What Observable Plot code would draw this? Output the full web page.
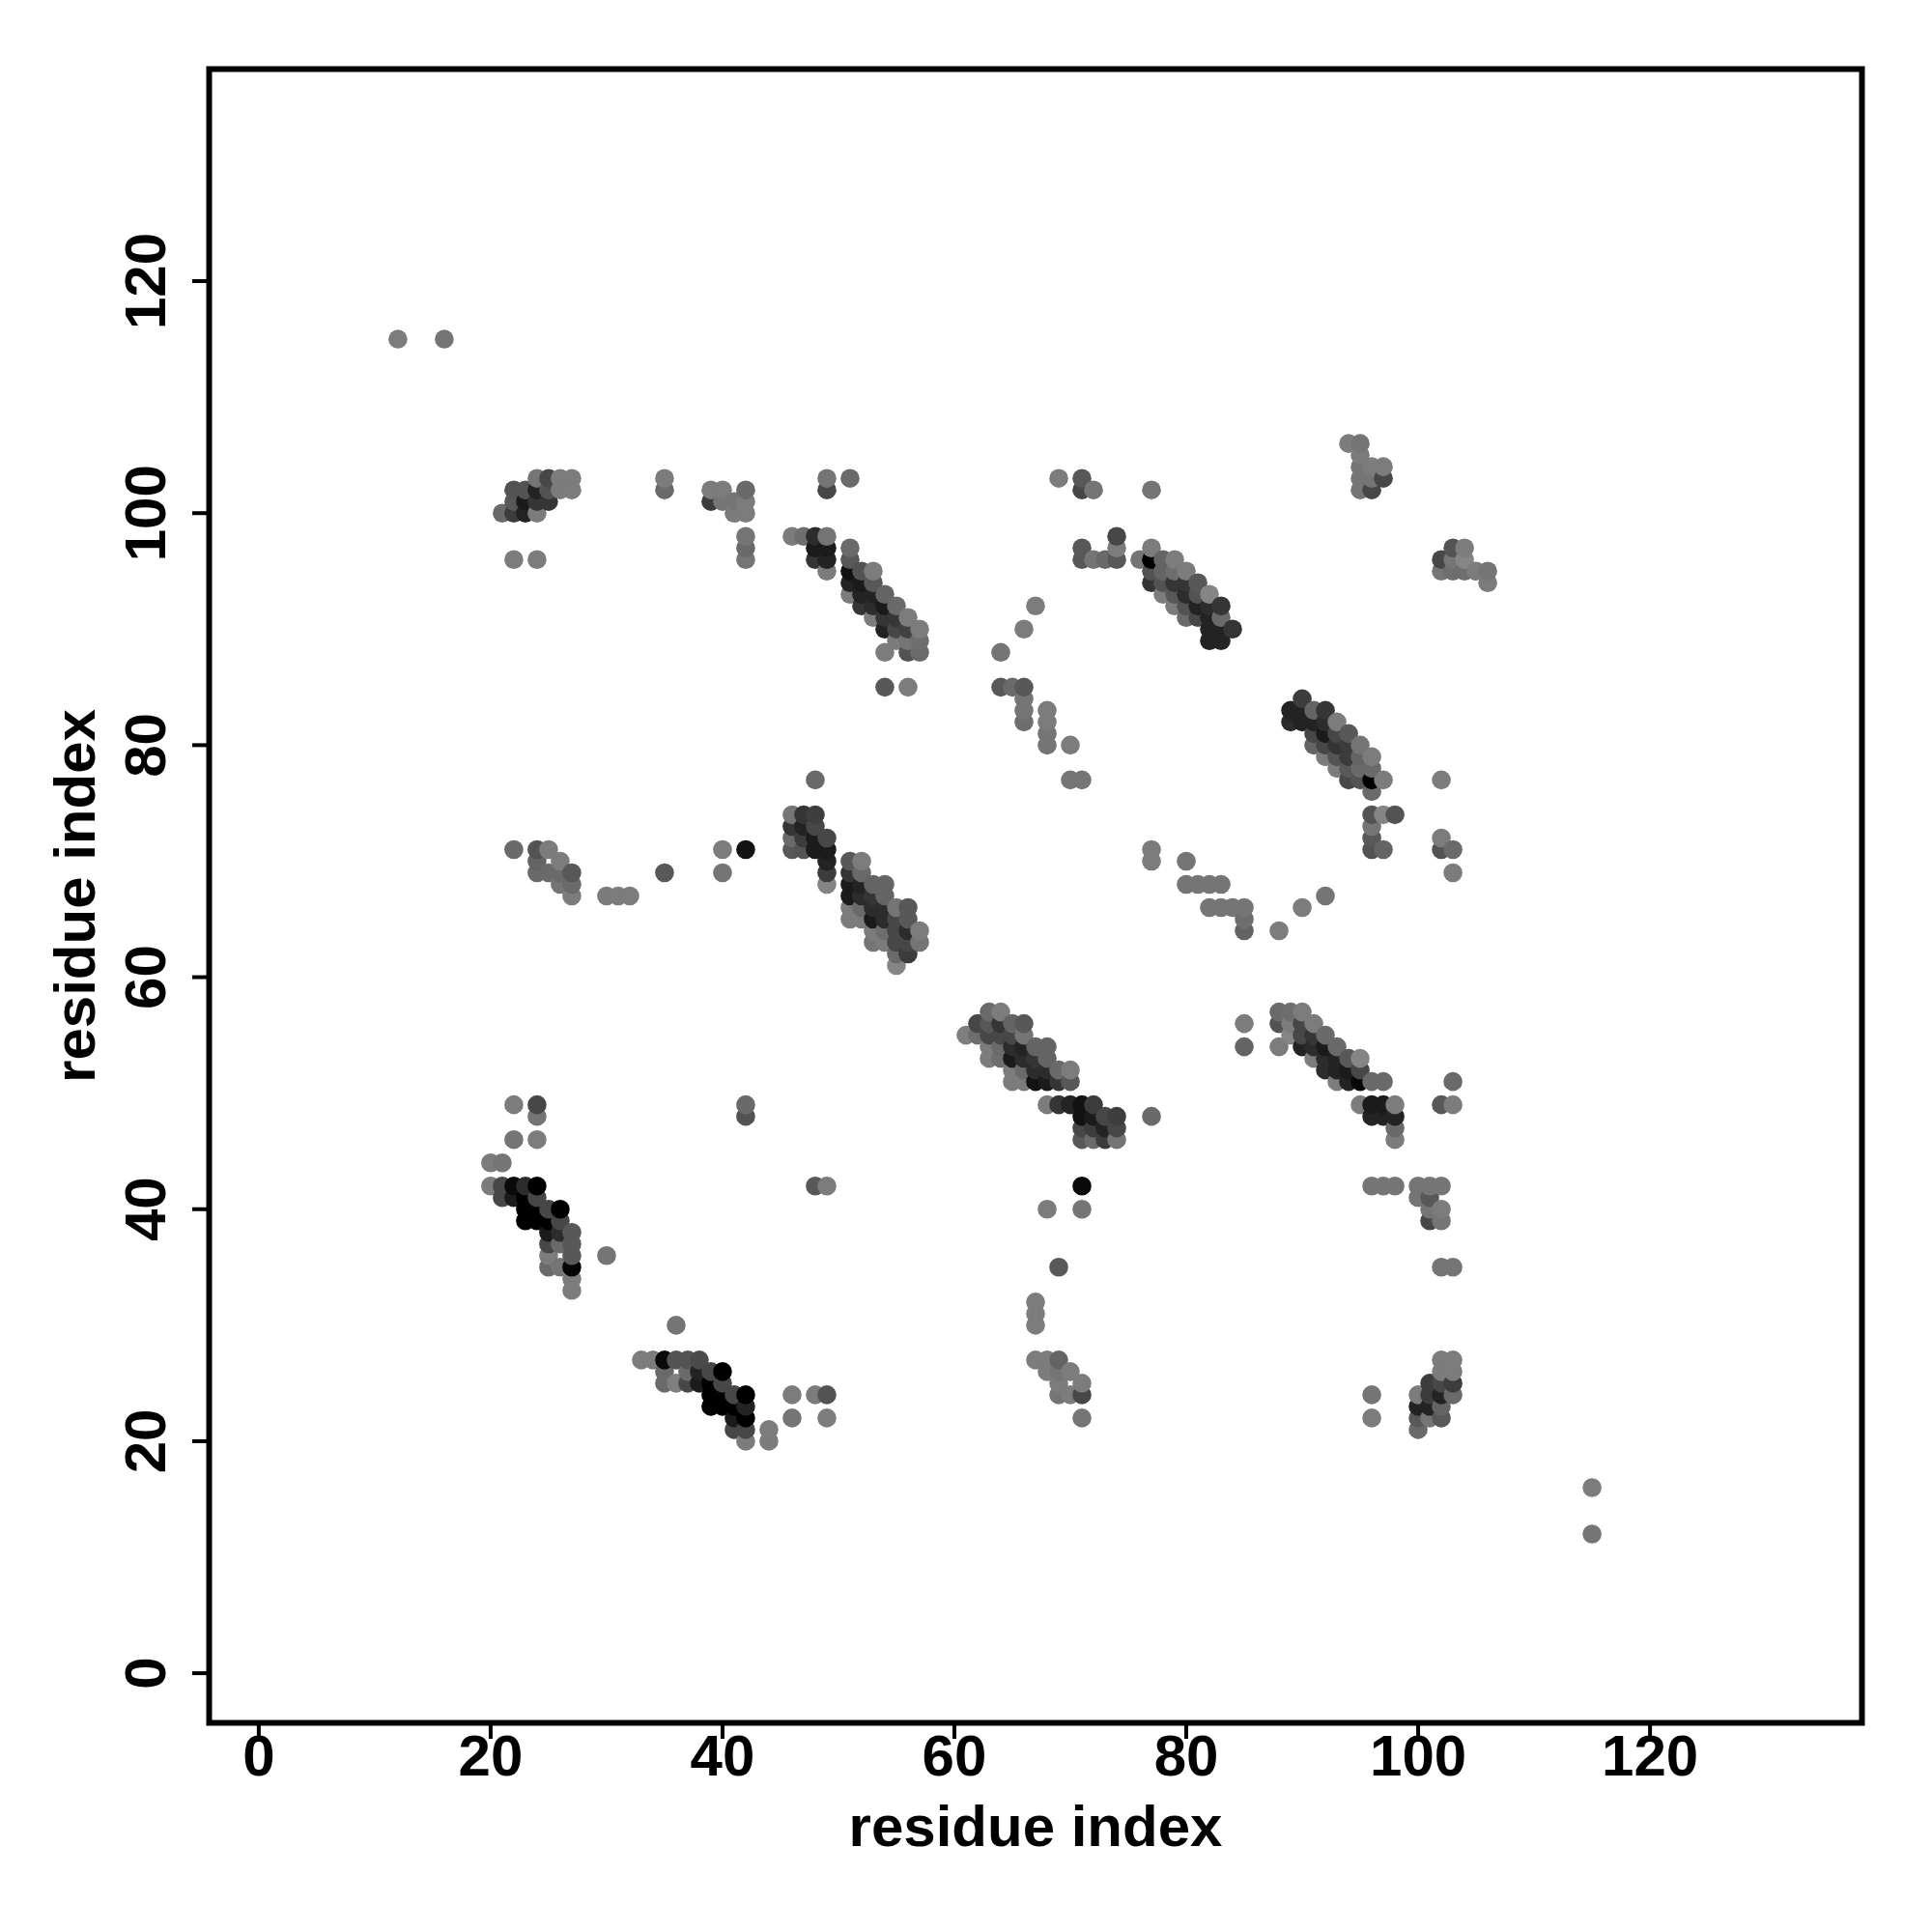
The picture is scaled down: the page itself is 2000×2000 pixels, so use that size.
<!DOCTYPE html>
<html>
<head>
<meta charset="utf-8">
<script src="https://cdn.jsdelivr.net/npm/d3@7"></script>
<script src="https://cdn.jsdelivr.net/npm/@observablehq/plot@0.6"></script>
<style>
html,body{margin:0;padding:0;background:#fff}
</style>
</head>
<body>
<div id="chart"></div>
<script>
// each contact: [residue x, residue y, grey level]
const helixA = [
[20,44,119],[21,44,112],[22,46,112],[24,46,119],[22,49,119],[24,49,68],[24,48,112],
[20,42,119],[21,42,68],[22,42,10],[23,42,42],[24,42,0],
[21,41,68],[22,41,26],[23,41,0],[24,41,68],
[23,40,0],[24,40,0],[25,40,68],[26,40,0],
[23,39,0],[24,39,0],[25,39,0],[26,39,68],
[25,38,26],[26,38,42],[27,38,85],
[25,37,68],[26,37,102],[27,37,85],
[25,36,119],[27,36,85],[30,36,112],
[25,35,102],[26,35,112],[27,35,5],
[27,34,119],[27,33,119]
];
const helixB = [
[36,30,112],
[33,27,119],[34,27,119],[35,27,10],[36,27,80],[37,27,80],[38,27,72],
[35,26,102],[37,26,102],[38,26,34],[39,26,68],[40,26,0],
[35,25,102],[36,25,122],[37,25,68],[38,25,26],[39,25,0],[40,25,68],
[39,24,0],[40,24,0],[41,24,68],[42,24,0],[46,24,119],[48,24,119],[49,24,80],
[39,23,0],[40,23,0],[41,23,0],[42,23,34],
[41,22,26],[42,22,0],[46,22,112],[49,22,119],
[41,21,68],[42,21,68],[44,21,119],
[42,20,119],[44,20,119]
];
const helixC = [
[63,57,102],[64,57,119],
[62,56,68],[63,56,85],[64,56,51],[65,56,96],[66,56,85],
[61,55,122],[62,55,106],[63,55,68],[64,55,68],[65,55,68],[66,55,112],
[63,54,119],[64,54,102],[65,54,42],[66,54,34],[67,54,96],[68,54,96],
[63,53,119],[64,53,106],[65,53,26],[66,53,42],[67,53,51],[68,53,96],
[65,52,119],[66,52,102],[67,52,42],[68,52,42],[69,52,102],[70,52,119],
[65,51,119],[66,51,119],[67,51,17],[68,51,26],[69,51,51],[70,51,85],
[68,49,119],[69,49,51],[70,49,34],[71,49,17],[72,49,58],
[71,48,17],[72,48,26],[73,48,68],[74,48,60],[77,48,102],
[71,47,68],[72,47,58],[73,47,34],[74,47,68],
[71,46,85],[72,46,102],[73,46,58],[74,46,112]
];
const helixD = [
[85,56,119],[85,54,96],
[88,57,102],[89,57,106],[90,57,119],
[88,56,80],[89,56,119],[90,56,68],[91,56,119],
[89,55,128],[90,55,68],[91,55,51],[92,55,102],
[88,54,119],[90,54,34],[91,54,42],[92,54,26],[93,54,102],
[91,53,119],[92,53,42],[93,53,34],[94,53,85],[95,53,128],
[92,52,42],[93,52,34],[94,52,26],[95,52,68],
[93,51,119],[94,51,34],[95,51,8],[96,51,102],[97,51,102],
[95,49,119],[96,49,26],[97,49,26],[98,49,119],[102,49,85],[103,49,119],
[96,48,34],[97,48,34],[98,48,34],
[98,47,102],[98,46,119],[103,51,102]
];
const helixE = [
[46,74,112],[47,74,51],[48,74,60],
[46,73,51],[47,73,34],[48,73,68],
[46,72,102],[47,72,58],[48,72,26],[49,72,68],
[46,71,85],[47,71,80],[48,71,26],[49,71,26],
[49,70,34],[51,70,85],[52,70,119],
[49,69,58],[51,69,51],[52,69,102],
[49,68,128],[51,68,26],[52,68,34],[53,68,96],[54,68,96],
[51,67,26],[52,67,42],[53,67,51],[54,67,96],
[51,66,119],[52,66,102],[53,66,42],[54,66,42],[55,66,112],[56,66,85],
[51,65,119],[52,65,119],[53,65,26],[54,65,42],[55,65,68],[56,65,85],
[53,64,119],[54,64,106],[55,64,68],[56,64,42],[57,64,119],
[53,63,112],[54,63,119],[55,63,68],[56,63,68],[57,63,112],
[55,62,102],[56,62,58],[55,61,128],[48,77,102]
];
const helixF = [
[46,98,119],[47,98,106],[48,98,42],[49,98,112],
[48,97,26],[49,97,26],[51,97,102],
[48,96,51],[49,96,34],[51,96,85],
[49,95,119],[51,95,17],[52,95,80],[53,95,119],
[51,94,34],[52,94,26],[53,94,85],
[51,93,119],[52,93,34],[53,93,34],[54,93,96],
[52,92,51],[53,92,42],[54,92,26],[55,92,102],
[53,91,119],[54,91,51],[55,91,51],[56,91,119],
[54,90,34],[55,90,68],[56,90,63],[57,90,119],
[55,89,119],[56,89,112],[57,89,106],
[54,88,119],[56,88,80],[57,88,102],
[54,85,85],[56,85,119]
];
const helixG = [
[71,97,85],[71,96,85],[72,96,112],[73,96,102],[74,96,85],[74,97,119],[74,98,68],
[76,96,112],[77,97,119],
[77,96,0],[78,96,96],[79,96,119],
[77,95,80],[78,95,96],[79,95,106],[80,95,119],
[77,94,51],[78,94,80],[79,94,51],[80,94,51],[81,94,85],
[78,93,119],[79,93,85],[80,93,42],[81,93,80],[82,93,128],
[79,92,119],[80,92,80],[81,92,34],[82,92,42],[83,92,51],
[80,91,102],[81,91,68],[82,91,34],[83,91,102],
[82,90,34],[83,90,34],[84,90,51],
[82,89,34],[83,89,34]
];
const helixH = [
[90,84,58],
[89,83,34],[90,83,34],[91,83,96],[92,83,51],
[89,82,42],[90,82,34],[91,82,34],[92,82,42],[93,82,119],
[91,81,68],[92,81,26],[93,81,68],[94,81,85],
[91,80,96],[92,80,68],[93,80,51],[94,80,58],[95,80,112],
[92,79,119],[93,79,80],[94,79,58],[95,79,96],[96,79,119],
[93,78,119],[94,78,85],[95,78,102],[96,78,102],
[94,77,68],[95,77,80],[96,77,0],[97,77,119],
[96,76,102],
[96,74,80],[97,74,128],[98,74,80],
[96,73,112],[96,72,85],[96,71,80],[97,71,96],
[102,77,119],[102,72,119],[102,71,80],[103,71,102],[103,69,119]
];
const clusterTopLeft = [
[24,103,112],[25,103,68],[26,103,119],[27,103,119],
[22,102,80],[23,102,80],[24,102,34],[25,102,80],[26,102,119],[27,102,119],
[22,101,85],[23,101,26],[24,101,51],[25,101,51],
[21,100,102],[22,100,58],[23,100,34],[24,100,119],
[22,96,119],[24,96,119]
];
const clusterTop = [
[35,103,119],[35,102,102],
[39,102,119],[40,102,119],[42,102,102],
[39,101,58],[40,101,112],[41,101,112],[42,101,119],
[41,100,119],[42,100,119],
[42,98,112],[42,97,102],[42,96,112],
[49,103,112],[51,103,102],[49,102,68],
[69,103,119],[71,103,85],[71,102,68],[72,102,112],
[77,102,112],
[67,92,119],[66,90,119],[64,88,112],
[64,85,85],[65,85,102],[66,85,85],[66,84,112],[66,83,112],[66,82,106],
[68,83,119],[68,82,119],[68,81,112],[68,80,112],[70,80,119],[70,77,112],[71,77,112],
[12,115,119],[16,115,112]
];
const clusterMiddle = [
[22,71,102],[24,71,80],[25,71,119],[24,70,96],[26,70,119],
[24,69,102],[25,69,102],[26,69,102],[27,69,85],
[26,68,112],[27,68,102],[27,67,119],
[30,67,119],[31,67,119],[32,67,119],
[35,69,85],[40,71,119],[40,69,112],[42,71,17],
[77,71,119],[77,70,119],[80,70,112],
[80,68,112],[81,68,112],[82,68,112],[83,68,112],
[82,66,112],[83,66,112],[84,66,112],[85,66,112],[85,65,106],[85,64,96],
[88,64,119],[90,66,119],[92,67,112]
];
const clusterLower = [
[42,49,102],[42,48,80],[48,42,85],[49,42,119],
[68,40,119],[71,42,10],[71,40,112],[69,35,85],
[67,32,119],[67,31,119],[67,30,119],
[96,42,112],[97,42,112],[98,42,112],
[100,42,112],[101,42,112],[102,42,112],[100,41,112],[101,41,85],
[101,40,112],[102,40,119],[101,39,68],[102,39,112],
[102,35,112],[103,35,112],
[96,24,112],[96,22,119],
[115,16,119],[115,12,112]
];
const clusterBottom = [
[67,27,119],[68,27,119],[69,27,96],
[68,26,119],[69,26,112],[70,26,119],
[69,25,119],[71,25,119],
[69,24,112],[70,24,119],[71,24,68],[71,22,112],
[102,27,119],[103,27,119],[102,26,119],[103,26,119],
[101,25,58],[102,25,68],[103,25,58],
[100,24,119],[101,24,58],[102,24,34],[103,24,102],
[100,23,34],[101,23,34],[102,23,96],
[100,22,85],[101,22,112],[102,22,85],[100,21,102]
];
const clusterRight = [
[94,106,119],[95,106,112],[95,105,119],
[95,104,112],[96,104,119],[97,104,119],
[95,103,112],[96,103,112],[97,103,68],
[95,102,112],[96,102,68],
[103,97,80],[104,97,119],
[102,96,68],[103,96,112],[104,96,128],
[102,95,112],[103,95,106],[104,95,106],[105,95,119],[106,95,112],[106,94,119]
];

const xLabel = "residue index";
const yLabel = "residue index";
const tickValues = [0, 20, 40, 60, 80, 100, 120];
const axisDomain = [-4.28, 138.28];

const contacts = d3.sort(
  [helixA, helixB, helixC, helixD, helixE, helixF, helixG, helixH,
   clusterTopLeft, clusterTop, clusterMiddle, clusterLower, clusterBottom, clusterRight]
    .flat().map(([x, y, shade]) => ({x, y, shade})),
  d => d.x, d => d.y
);

const chart = Plot.plot({
  width: 2000,
  height: 2000,
  marginLeft: 216,
  marginRight: 73,
  marginTop: 71,
  marginBottom: 217,
  style: {fontFamily: "'Liberation Sans', Arial, sans-serif", fontWeight: "bold", background: "#fff", overflow: "visible"},
  x: {domain: axisDomain, label: null},
  y: {domain: axisDomain, label: null},
  color: {type: "linear", domain: [0, 245], range: ["#000000", "#ffffff"]},
  marks: [
    Plot.dot(contacts, {x: "x", y: "y", r: 9.8, fill: "shade", stroke: null}),
    Plot.frame({stroke: "#000", strokeWidth: 6}),
    Plot.axisX({
      ticks: tickValues, tickSize: 17, tickPadding: -5, fontSize: 60, strokeWidth: 4, stroke: "#000", fill: "#000",
      label: xLabel, labelAnchor: "center", labelArrow: "none", labelOffset: 127, tickFormat: d3.format("d")
    }),
    Plot.axisY({
      ticks: tickValues, tickSize: 17, tickPadding: 29, fontSize: 60, strokeWidth: 4, stroke: "#000", fill: "#000",
      tickRotate: -90,
      label: yLabel, labelAnchor: "center", labelArrow: "none", labelOffset: 161, tickFormat: d3.format("d")
    })
  ]
});
document.getElementById("chart").appendChild(chart);
</script>
</body>
</html>
